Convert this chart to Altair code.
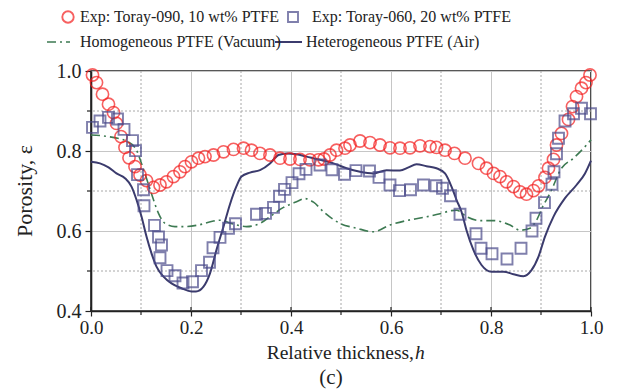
import altair as alt
import pandas as pd

# ---------------- data ----------------
exp090_h = [0.003, 0.011, 0.023, 0.035, 0.045, 0.051, 0.060, 0.068, 0.076, 0.088,
            0.098, 0.111, 0.125, 0.138, 0.151, 0.165, 0.178, 0.188, 0.201, 0.215,
            0.228, 0.245, 0.265, 0.285, 0.305, 0.321, 0.338, 0.358, 0.378, 0.398,
            0.418, 0.438, 0.455, 0.466, 0.478, 0.491, 0.508, 0.518, 0.538, 0.558,
            0.578, 0.598, 0.618, 0.638, 0.658, 0.678, 0.691, 0.708, 0.727, 0.748,
            0.775, 0.791, 0.805, 0.818, 0.831, 0.845, 0.858, 0.871, 0.885, 0.895,
            0.908, 0.915, 0.925, 0.931, 0.941, 0.955, 0.963, 0.971, 0.981, 0.990,
            0.998]
exp090_eps = [0.990, 0.971, 0.942, 0.917, 0.896, 0.869, 0.836, 0.809, 0.783, 0.761,
              0.740, 0.726, 0.709, 0.715, 0.723, 0.736, 0.748, 0.761, 0.773, 0.782,
              0.786, 0.790, 0.798, 0.804, 0.807, 0.802, 0.794, 0.790, 0.782, 0.780,
              0.779, 0.778, 0.778, 0.780, 0.790, 0.802, 0.807, 0.815, 0.825, 0.821,
              0.815, 0.808, 0.807, 0.808, 0.813, 0.811, 0.809, 0.802, 0.794, 0.782,
              0.769, 0.757, 0.744, 0.736, 0.723, 0.711, 0.698, 0.692, 0.701, 0.713,
              0.734, 0.757, 0.779, 0.815, 0.844, 0.879, 0.911, 0.936, 0.957, 0.971,
              0.990]

exp060_h = [0.003, 0.018, 0.035, 0.053, 0.066, 0.083, 0.089, 0.093, 0.105, 0.106,
            0.127, 0.135, 0.141, 0.138, 0.152, 0.168, 0.184, 0.203, 0.221, 0.237,
            0.244, 0.258, 0.275, 0.289, 0.331, 0.349, 0.365, 0.377, 0.387, 0.402,
            0.416, 0.430, 0.458, 0.482, 0.507, 0.530, 0.557, 0.576, 0.598, 0.617,
            0.639, 0.665, 0.690, 0.703, 0.719, 0.738, 0.770, 0.780, 0.802, 0.832,
            0.860, 0.882, 0.890, 0.907, 0.922, 0.926, 0.931, 0.935, 0.948, 0.965,
            0.981, 0.999]
exp060_eps = [0.859, 0.875, 0.884, 0.880, 0.854, 0.826, 0.801, 0.741, 0.703, 0.663,
              0.614, 0.585, 0.565, 0.533, 0.501, 0.488, 0.470, 0.473, 0.501, 0.522,
              0.558, 0.584, 0.607, 0.618, 0.642, 0.644, 0.659, 0.687, 0.704, 0.721,
              0.743, 0.754, 0.765, 0.753, 0.742, 0.751, 0.750, 0.734, 0.715, 0.701,
              0.703, 0.715, 0.713, 0.707, 0.688, 0.642, 0.593, 0.557, 0.543, 0.530,
              0.557, 0.600, 0.632, 0.671, 0.717, 0.748, 0.793, 0.832, 0.875, 0.893,
              0.907, 0.893]

homo_h = [0.000, 0.035, 0.074, 0.091, 0.101, 0.114, 0.125, 0.135, 0.148, 0.168,
          0.188, 0.215, 0.245, 0.258, 0.285, 0.311, 0.338, 0.358, 0.385, 0.411,
          0.428, 0.445, 0.465, 0.498, 0.531, 0.565, 0.598, 0.631, 0.665, 0.698,
          0.721, 0.731, 0.751, 0.778, 0.805, 0.838, 0.858, 0.878, 0.891, 0.905,
          0.918, 0.940, 0.965, 0.991, 1.000]
homo_eps = [0.840, 0.836, 0.823, 0.802, 0.769, 0.720, 0.678, 0.644, 0.619, 0.611,
            0.611, 0.615, 0.625, 0.627, 0.617, 0.611, 0.619, 0.636, 0.659, 0.673,
            0.681, 0.672, 0.648, 0.619, 0.607, 0.598, 0.615, 0.626, 0.634, 0.643,
            0.651, 0.652, 0.636, 0.626, 0.626, 0.615, 0.602, 0.607, 0.627, 0.665,
            0.694, 0.755, 0.782, 0.815, 0.828]

hetero_h = [0.000, 0.018, 0.035, 0.051, 0.068, 0.081, 0.091, 0.101, 0.111, 0.121,
            0.131, 0.145, 0.161, 0.181, 0.201, 0.210, 0.225, 0.238, 0.251, 0.265,
            0.278, 0.291, 0.301, 0.318, 0.338, 0.358, 0.375, 0.391, 0.411, 0.431,
            0.458, 0.485, 0.511, 0.538, 0.565, 0.591, 0.618, 0.635, 0.651, 0.671,
            0.691, 0.708, 0.721, 0.731, 0.741, 0.751, 0.765, 0.781, 0.801, 0.825,
            0.845, 0.865, 0.881, 0.895, 0.908, 0.925, 0.948, 0.971, 0.988, 1.000]
hetero_eps = [0.773, 0.769, 0.759, 0.744, 0.732, 0.711, 0.678, 0.636, 0.586, 0.544,
              0.511, 0.486, 0.469, 0.457, 0.449, 0.449, 0.461, 0.494, 0.553, 0.611,
              0.667, 0.712, 0.736, 0.746, 0.752, 0.769, 0.790, 0.794, 0.792, 0.786,
              0.778, 0.769, 0.757, 0.748, 0.744, 0.752, 0.751, 0.759, 0.767, 0.762,
              0.757, 0.744, 0.711, 0.678, 0.648, 0.602, 0.552, 0.515, 0.498, 0.498,
              0.492, 0.487, 0.502, 0.536, 0.586, 0.636, 0.682, 0.715, 0.744, 0.776]

x_major = [0.0, 0.2, 0.4, 0.6, 0.8, 1.0]
x_minor = [0.1, 0.3, 0.5, 0.7, 0.9]
y_major = [0.4, 0.6, 0.8, 1.0]
y_minor = [0.5, 0.7, 0.9]

legend_labels = ["Exp: Toray-090, 10 wt% PTFE", "Exp: Toray-060, 20 wt% PTFE",
                 "Homogeneous PTFE (Vacuum)", "Heterogeneous PTFE (Air)"]

# ---------------- styling ----------------
FONT = "Liberation Serif"
INK = "#222222"
RED = "#f41e1e"
SQ = "#4a4a8a"
NAVY = "#3b3b6d"
GREEN = "#3d7a52"
W, H = 500, 240

xs = alt.Scale(domain=[0, 1], nice=False, zero=False)
ys = alt.Scale(domain=[0.4, 1.0], nice=False, zero=False)

ax_x = alt.Axis(values=x_major, format=".1f", title=None, grid=True,
                gridColor="#c6c6c6", gridWidth=1, tickSize=5, tickColor=INK,
                tickWidth=1.2, domainColor=INK, domainWidth=1.6, labelFont=FONT,
                labelFontSize=19, labelColor=INK, labelPadding=2,
                labelFlush=False, labelOverlap=False)
ax_y = alt.Axis(values=y_major, format=".1f", title=None, grid=True,
                gridColor="#c6c6c6", gridWidth=1, tickSize=6, tickColor=INK,
                tickWidth=1.2, domainColor=INK, domainWidth=1.6, labelFont=FONT,
                labelFontSize=20, labelColor=INK, labelPadding=4,
                labelFlush=False, labelOverlap=False)

X = alt.X("h:Q", scale=xs, axis=ax_x)
Y = alt.Y("eps:Q", scale=ys, axis=ax_y)

df090 = pd.DataFrame({"h": exp090_h, "eps": exp090_eps})
df060 = pd.DataFrame({"h": exp060_h, "eps": exp060_eps})
dfhomo = pd.DataFrame({"h": homo_h, "eps": homo_eps})
dfhet = pd.DataFrame({"h": hetero_h, "eps": hetero_eps})
dfxmin = pd.DataFrame({"h": x_minor})
dfxmaj = pd.DataFrame({"h": x_major})
dfymin = pd.DataFrame({"eps": y_minor})
one = pd.DataFrame({"k": [0]})

base_lines = alt.Chart(dfhet).mark_line(strokeWidth=0, opacity=0).encode(x=X, y=Y)

grid_x_minor = alt.Chart(dfxmin).mark_rule(color="#a8a8a8", strokeWidth=1,
                                           strokeDash=[2, 2]).encode(
    x=alt.X("h:Q", scale=xs))
grid_y_minor = alt.Chart(dfymin).mark_rule(color="#a8a8a8", strokeWidth=1,
                                           strokeDash=[2, 2]).encode(
    y=alt.Y("eps:Q", scale=ys))
tick_x_minor = alt.Chart(dfxmin).mark_rule(color=INK, strokeWidth=1.2).encode(
    x=alt.X("h:Q", scale=xs), y=alt.value(H), y2=alt.value(H + 4))
tick_x_inner = alt.Chart(dfxmaj).mark_rule(color=INK, strokeWidth=1.2).encode(
    x=alt.X("h:Q", scale=xs), y=alt.value(H - 4), y2=alt.value(H))
tick_y_minor = alt.Chart(dfymin).mark_rule(color=INK, strokeWidth=1.2).encode(
    y=alt.Y("eps:Q", scale=ys), x=alt.value(-4), x2=alt.value(0))

homo = alt.Chart(dfhomo).mark_line(color=GREEN, strokeWidth=1.6,
                                   strokeDash=[9, 4, 2, 4],
                                   interpolate="monotone").encode(x=X, y=Y)
het = alt.Chart(dfhet).mark_line(color=NAVY, strokeWidth=2,
                                 interpolate="monotone").encode(x=X, y=Y)
circ = alt.Chart(df090).mark_point(shape="circle", filled=False, size=150,
                                   strokeWidth=1.6, color=RED).encode(x=X, y=Y)
sq = alt.Chart(df060).mark_point(shape="square", filled=False, size=120,
                                 strokeWidth=1.9, color=SQ).encode(x=X, y=Y)

# ---------------- legend, titles ----------------
def txt(s, x, y, size=16, align="left", baseline="middle", style="normal", angle=0):
    return alt.Chart(one).mark_text(text=s, font=FONT, fontSize=size, color=INK,
                                    align=align, baseline=baseline,
                                    fontStyle=style, angle=angle).encode(
        x=alt.value(x), y=alt.value(y))

leg_circ = alt.Chart(one).mark_point(shape="circle", filled=False, size=130,
                                     strokeWidth=1.9, color=RED).encode(
    x=alt.value(-23), y=alt.value(-54))
leg_sq = alt.Chart(one).mark_point(shape="square", filled=False, size=100,
                                   strokeWidth=1.9, color=SQ).encode(
    x=alt.value(202), y=alt.value(-54))
leg_homo = alt.Chart(one).mark_rule(color=GREEN, strokeWidth=1.6,
                                    strokeDash=[9, 4, 2, 4]).encode(
    x=alt.value(-44), x2=alt.value(-21), y=alt.value(-29))
leg_het = alt.Chart(one).mark_rule(color=NAVY, strokeWidth=2).encode(
    x=alt.value(184), x2=alt.value(211), y=alt.value(-29))

layers = [
    grid_x_minor, grid_y_minor, base_lines, homo, het, circ, sq,
    tick_x_minor, tick_x_inner, tick_y_minor,
    leg_circ, leg_sq, leg_homo, leg_het,
    txt(legend_labels[0], -11, -54, size=16),
    txt(legend_labels[1], 221, -54, size=16),
    txt(legend_labels[2], -11, -29, size=16),
    txt(legend_labels[3], 215, -29, size=16),
    txt("Porosity, \u03b5", -66, 120, size=22, align="center", angle=270),
    txt("Relative thickness,", 323, 288, size=19.5, align="right", baseline="alphabetic"),
    txt("h", 324, 288, size=19.5, align="left", baseline="alphabetic", style="italic"),
    txt("(c)", 240, 307, size=21, align="center"),
]

chart = alt.layer(*layers).properties(
    width=W, height=H,
    padding={"left": 91, "top": 71, "right": 47, "bottom": 79},
    autosize=alt.AutoSizeParams(type="none"),
    background="white",
).configure_view(stroke=INK, strokeWidth=1.6)

chart.save("out.html", embed_options={"renderer": "svg", "actions": False})
